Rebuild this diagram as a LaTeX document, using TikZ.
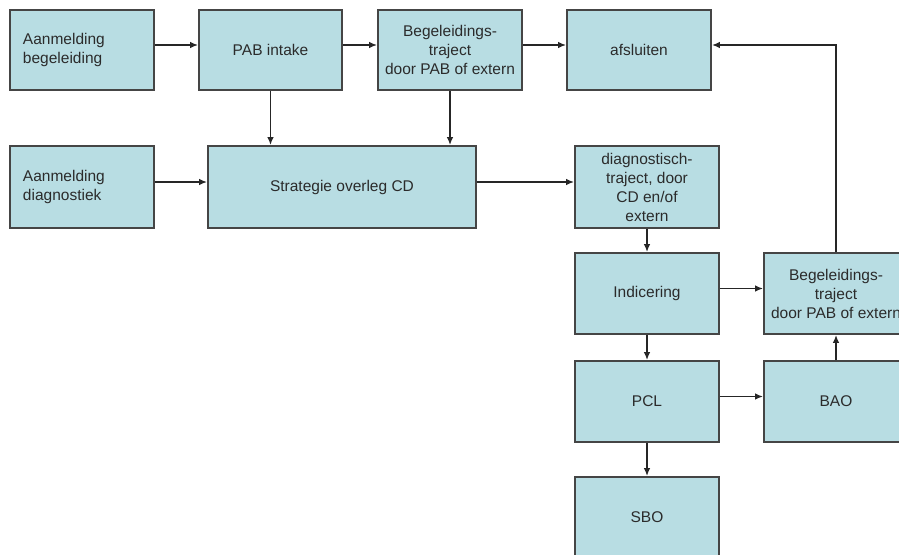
\documentclass[tikz,border=0pt]{standalone}
\usepackage{fontspec}
\setmainfont{Liberation Sans}
\usetikzlibrary{arrows.meta,calc}
\definecolor{boxfill}{HTML}{B8DDE3}
\definecolor{boxline}{HTML}{454545}
\definecolor{txt}{HTML}{2B2B2B}
\tikzset{
  box/.style={draw=boxline, line width=1.7pt, fill=boxfill, rectangle, inner sep=0pt,
    minimum width=144pt, minimum height=81pt, align=center, text=txt,
    font=\fontsize{15.5}{19}\selectfont},
  lbox/.style={box, text width=118pt, inner xsep=13pt, align=left, minimum width=0pt},
  arr/.style={-{Latex[length=8pt,width=6.5pt]}, line width=1.6pt, draw=black!85}
}
\begin{document}
\begin{tikzpicture}[x=1pt,y=-1pt]
\useasboundingbox (0,0) rectangle (899,554);
\fill[white] (0,0) rectangle (899,554);
\clip (0,0) rectangle (899,554);
% row 1
\node[lbox, minimum height=80pt] (b1) at (82,50) {Aanmelding\\begeleiding};
\node[box, minimum width=143pt, minimum height=80pt] (pab) at (270.5,50) {PAB intake};
\node[box, minimum height=80pt] (beg1) at (450,50) {Begeleidings-\\traject\\door PAB of extern};
\node[box, minimum height=80pt] (afs) at (639,50) {afsluiten};
% row 2
\node[lbox, minimum height=82pt] (ad) at (82,187) {Aanmelding\\diagnostiek};
\node[box, minimum width=268pt, minimum height=82pt] (strat) at (342,187) {Strategie overleg CD};
\node[box, minimum height=82pt] (diag) at (647,187) {diagnostisch-\\traject, door\\CD en/of\\extern};
% right column
\node[box] (ind) at (647,293.5) {Indicering};
\node[box] (beg2) at (836,293.5) {Begeleidings-\\traject\\door PAB of extern};
\node[box] (pcl) at (647,401.5) {PCL};
\node[box] (bao) at (836,401.5) {BAO};
\node[box] (sbo) at (647,517.5) {SBO};
\coordinate (corner) at (836,45);
% connectors
\draw[arr] ($(b1.east)+(0,-5)$) -- ($(pab.west)+(0,-5)$);
\draw[arr] ($(pab.east)+(0,-5)$) -- ($(beg1.west)+(0,-5)$);
\draw[arr] ($(beg1.east)+(0,-5)$) -- ($(afs.west)+(0,-5)$);
\draw[arr] (pab.south) -- (pab.south |- strat.north);
\draw[arr] (beg1.south) -- (beg1.south |- strat.north);
\draw[arr] ($(ad.east)+(0,-5)$) -- ($(strat.west)+(0,-5)$);
\draw[arr] ($(strat.east)+(0,-5)$) -- ($(diag.west)+(0,-5)$);
\draw[arr] (diag.south) -- (ind.north);
\draw[arr] ($(ind.east)+(0,-5)$) -- ($(beg2.west)+(0,-5)$);
\draw[arr] (ind.south) -- (pcl.north);
\draw[arr] ($(pcl.east)+(0,-5)$) -- ($(bao.west)+(0,-5)$);
\draw[arr] (pcl.south) -- (sbo.north);
\draw[arr] (bao.north) -- (beg2.south);
\draw[arr] (beg2.north) -- (corner) -- ($(afs.east)+(0,-5)$);
\end{tikzpicture}
\end{document}
